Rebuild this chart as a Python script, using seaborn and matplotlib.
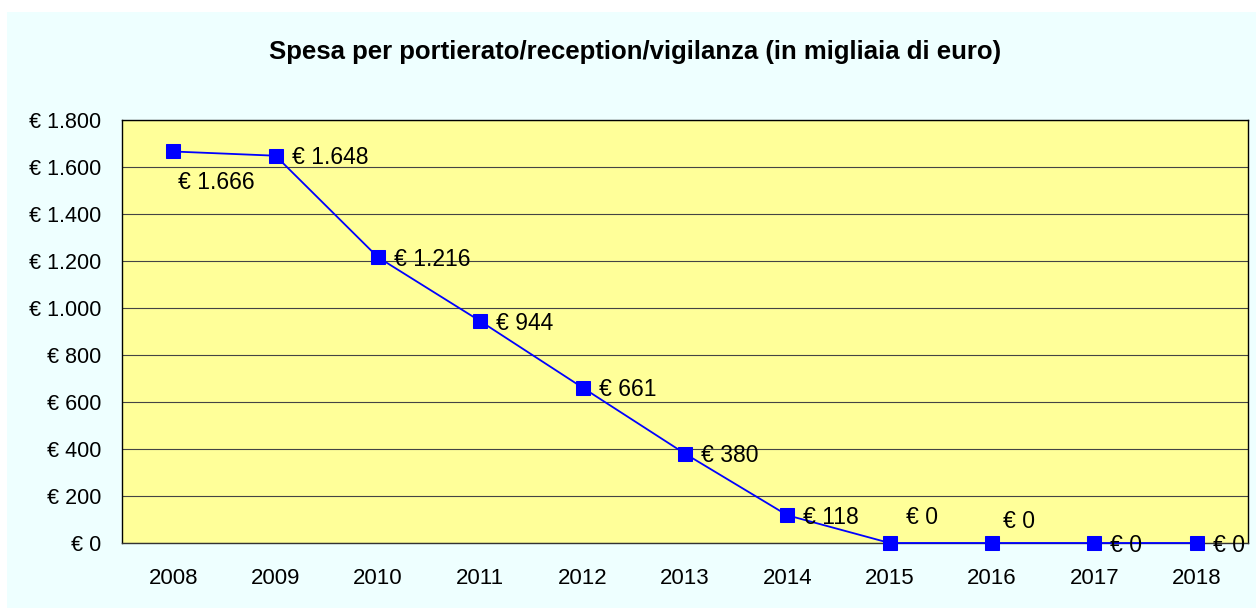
import matplotlib
matplotlib.use("Agg")
import matplotlib.pyplot as plt
import matplotlib.patches as mpatches
import seaborn as sns
import numpy as np

years = ["2008", "2009", "2010", "2011", "2012", "2013", "2014", "2015", "2016", "2017", "2018"]
spesa = [1666, 1648, 1216, 944, 661, 380, 118, 0, 0, 0, 0]
label_offsets = [(5, -31), (16, -2), (16, -2), (16, -2), (16, -2), (16, -2), (16, -2),
                 (16, 26), (11, 21), (16, -2), (16, -2)]

sns.set_theme(style="white")
plt.rcParams['font.family'] = ['Liberation Sans', 'DejaVu Sans']
plt.rcParams['text.color'] = 'black'
plt.rcParams['xtick.color'] = 'black'
plt.rcParams['ytick.color'] = 'black'

def eur(v):
    return "€ " + f"{v:,.0f}".replace(",", ".")

fig = plt.figure(figsize=(12.56, 6.08), dpi=100)
fig.patch.set_facecolor("white")
fig.patches.append(mpatches.Rectangle((7 / 1256, 0), 1 - 7 / 1256, 1 - 12 / 608,
                                      transform=fig.transFigure, facecolor="#EEFFFF",
                                      edgecolor="none", zorder=-10))
ax = fig.add_axes([122 / 1256, 1 - 543 / 608, (1248 - 122) / 1256, (543 - 120) / 608])
ax.set_facecolor("#FFFF99")

x = np.arange(len(years))
sns.lineplot(x=x, y=spesa, ax=ax, color="#0000FF", linewidth=1.3, marker="s",
             markersize=9.5, markeredgecolor="#0000FF", markerfacecolor="#0000FF",
             clip_on=False, zorder=5)

for xi, v, off in zip(x, spesa, label_offsets):
    ax.annotate(eur(v), (xi, v), xytext=off, textcoords="offset pixels",
                ha="left", va="center", fontsize=16.5, color="black", zorder=6)

ax.set_xlim(-0.5, len(years) - 0.5)
ax.set_ylim(0, 1800)
yt = np.arange(0, 1801, 200)
ax.set_yticks(yt)
ax.set_yticklabels([eur(v) for v in yt], fontsize=15.5)
ax.yaxis.grid(True, color="#444444", linewidth=0.8)
ax.set_axisbelow(True)

ax.set_xticks(np.arange(-0.5, len(years), 1.0))
ax.set_xticklabels([])
ax.set_xticks(x, minor=True)
ax.set_xticklabels(years, minor=True, fontsize=16)
ax.tick_params(axis="x", which="major", direction="out", length=6, width=0.8, color="#333333")
ax.tick_params(axis="x", which="minor", length=0, pad=18)
ax.tick_params(axis="y", direction="out", length=6, width=0.8, color="#333333", pad=9)

for s in ax.spines.values():
    s.set_color("black")
    s.set_linewidth(1.0)
ax.spines["bottom"].set_color("#333333")

fig.text(635 / 1256, 1 - 52 / 608, "Spesa per portierato/reception/vigilanza (in migliaia di euro)",
         ha="center", va="center", fontsize=18.5, fontweight="bold", color="black")

fig.savefig("out.png", dpi=100)
